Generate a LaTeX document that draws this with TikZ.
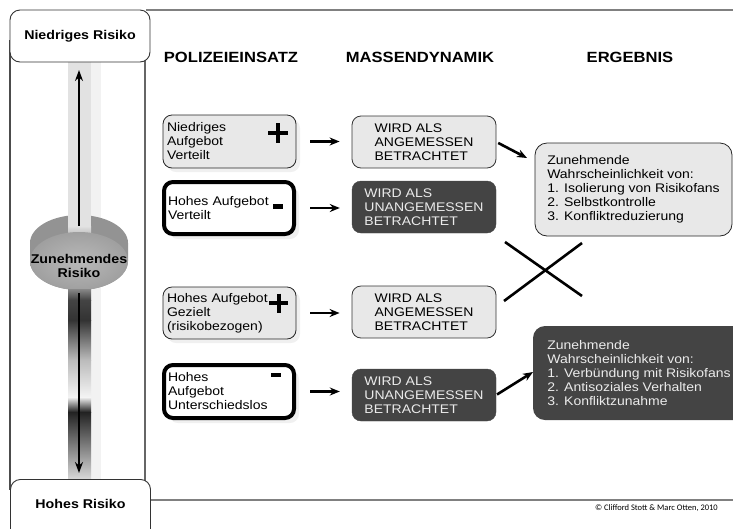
\documentclass[tikz,border=0pt]{standalone}
\usepackage{fontspec}
\setmainfont{Liberation Sans}[FakeStretch=1.12]
\newfontfamily\cfont{Carlito}
\usetikzlibrary{arrows.meta,shadows,calc}
\definecolor{lightbox}{HTML}{E8E8E8}
\definecolor{darkbox}{HTML}{444444}
\definecolor{framegrey}{HTML}{808080}
\definecolor{bartop}{HTML}{E2E2E2}
\definecolor{g88}{HTML}{888888}
\definecolor{g44}{HTML}{444444}
\definecolor{g33}{HTML}{333333}
\definecolor{gbb}{HTML}{BBBBBB}
\definecolor{gf4}{HTML}{F4F4F4}
\definecolor{g22}{HTML}{222222}
\definecolor{gd8}{HTML}{D8D8D8}
\begin{document}
\begin{tikzpicture}[x=1pt,y=-1pt,
  body/.style={font=\fontsize{12.5}{14}\selectfont},
  lightbx/.style={body,draw=black!85,fill=lightbox,rounded corners=9pt,line width=0.8pt,
     drop shadow={opacity=0.12,shadow xshift=4pt,shadow yshift=-4pt}},
  thickbx/.style={body,draw=black,fill=white,rounded corners=9pt,line width=4pt,
     drop shadow={opacity=0.12,shadow xshift=5pt,shadow yshift=-5pt}},
  midlight/.style={body,draw=black!80,fill=lightbox,rounded corners=9pt,line width=0.8pt,align=left,
     minimum width=144pt,minimum height=52pt,inner sep=0pt},
  middark/.style={body,draw=darkbox,fill=darkbox,text=white!92!black,rounded corners=9pt,align=left,
     minimum width=144pt,minimum height=52pt,inner sep=0pt},
  head/.style={font=\fontsize{14.8}{16}\selectfont\bfseries},
  riskbox/.style={draw=black!80,fill=white,rounded corners=10pt,line width=0.9pt,
     font=\fontsize{12.7}{15}\selectfont\bfseries,minimum width=140pt},
  flow/.style={-{Stealth[length=10pt,width=8pt]},line width=2.6pt},
  cross/.style={line width=2.6pt},
  pmmark/.style={line width=4pt}
]
\useasboundingbox (0,0) rectangle (733,528);
% frame lines
\draw[framegrey,line width=2pt] (146,10) -- (733,10);
\draw[framegrey,line width=2pt] (150,500) -- (733,500);
\draw[black!70,line width=1.2pt] (10,40) -- (10,490);
\draw[black!60,line width=2.2pt] (145,20) -- (145,490);
% bar
\fill[white!95!black] (90,62) rectangle (101,479);
\fill[bartop] (68,62) rectangle (91,240);
% cylinder back
\fill[gray!85] (30,243) arc[start angle=180,end angle=360,x radius=49,y radius=28] -- (128,261)
   arc[start angle=0,end angle=180,x radius=49,y radius=29] -- cycle;
\fill[bartop] (68,200) rectangle (91,226);
\shade[top color=bartop,bottom color=gray!70] (68,226) rectangle (91,240);
% cylinder front
\shade[inner color=gray!55,outer color=gray!75] (79,261) ellipse[x radius=49,y radius=29];
% lower bar shading
\shade[top color=g88,bottom color=g44] (68,289) rectangle (91,300);
\shade[top color=g44,bottom color=g33] (68,300) rectangle (91,320);
\shade[top color=g33,bottom color=gbb] (68,320) rectangle (91,360);
\shade[top color=gbb,bottom color=gf4] (68,360) rectangle (91,397);
\shade[top color=gf4,bottom color=g22] (68,397) rectangle (91,412);
\shade[top color=g22,bottom color=gd8] (68,412) rectangle (91,479);
% risk boxes
\node[riskbox,minimum height=52pt] (low) at (80,36) {Niedriges Risiko};
\node[riskbox,anchor=north,inner ysep=20pt,text height=9pt,text depth=40pt] (high) at (80.5,479) {Hohes Risiko};
\node[font=\fontsize{12.7}{14.5}\selectfont\bfseries,align=center,inner sep=0pt] (mid) at (79,266) {Zunehmendes\\Risiko};
\coordinate (upfrom) at (79,226);
\coordinate (upto) at (79,70);
\coordinate (dnfrom) at (79,293);
\coordinate (dnto) at (79,473);
\draw[-{Stealth[length=11pt,width=8pt]},line width=2pt] (upfrom) -- (upto);
\draw[-{Stealth[length=11pt,width=8pt]},line width=2pt] (dnfrom) -- (dnto);
% headings
\node[head] (h1) at (231,57) {POLIZEIEINSATZ};
\node[head] (h2) at (420,57) {MASSENDYNAMIK};
\node[head] (h3) at (630,57) {ERGEBNIS};
% left boxes
\node[lightbx,minimum width=133pt,minimum height=53pt,text width=125pt,inner xsep=4pt,align=left] (p1) at (229.5,141.5) {Niedriges\\Aufgebot\\Verteilt};
\node[thickbx,minimum width=130pt,minimum height=52pt,text width=122pt,inner xsep=4pt,align=left] (p2) at (229,208) {Hohes Aufgebot\\Verteilt};
\node[lightbx,minimum width=133pt,minimum height=52pt,text width=125pt,inner xsep=4pt,align=left] (p3) at (229.5,313) {Hohes Aufgebot\\Gezielt\\(risikobezogen)};
\node[thickbx,minimum width=130pt,minimum height=53pt,text width=122pt,inner xsep=4pt,align=left] (p4) at (229,391.5) {Hohes\\Aufgebot\\Unterschiedslos};
% plus / minus
\draw[pmmark] (268,133) -- (288,133) (278,123) -- (278,143);
\draw[pmmark,line width=4.2pt] (273,206.5) -- (283,206.5);
\draw[pmmark] (269,303) -- (288,303) (278.5,293.5) -- (278.5,312.5);
\draw[pmmark,line width=4.2pt] (271,375) -- (281,375);
% middle boxes
\node[midlight] (m1) at (424,142) {WIRD ALS\\ANGEMESSEN\\BETRACHTET};
\node[middark] (m2) at (424,207) {WIRD ALS\\UNANGEMESSEN\\BETRACHTET};
\node[midlight] (m3) at (424,312) {WIRD ALS\\ANGEMESSEN\\BETRACHTET};
\node[middark] (m4) at (424,395) {WIRD ALS\\UNANGEMESSEN\\BETRACHTET};
% right boxes
\node[body,draw=black!85,fill=lightbox,rounded corners=12pt,line width=0.8pt,align=left,
  minimum width=197pt,minimum height=93pt,inner sep=0pt] (r1) at (633.5,189.5)
  {Zunehmende\\Wahrscheinlichkeit von:\\1. Isolierung von Risikofans\\2. Selbstkontrolle\\3. Konfliktreduzierung};
\node[body,fill=darkbox,text=white!92!black,rounded corners=12pt,align=left,
  minimum width=212pt,minimum height=94pt,inner sep=0pt] (r2) at (639,373)
  {Zunehmende\\Wahrscheinlichkeit von:\\1. Verbündung mit Risikofans\\2. Antisoziales Verhalten\\3. Konfliktzunahme};
% arrows
\draw[flow,shorten <=14pt,shorten >=12pt] (p1.east) -- (m1.west |- p1.east);
\draw[flow,shorten <=14pt,shorten >=12pt] (p2.east) -- (m2.west |- p2.east);
\draw[flow,shorten <=14pt,shorten >=12pt] (p3.east) -- (m3.west |- p3.east);
\draw[flow,shorten <=14pt,shorten >=12pt] (p4.east) -- (m4.west |- p4.east);
\coordinate (a1) at (527,158);
\coordinate (a4) at (533,372);
\draw[flow,shorten <=2pt] (m1.east) -- (a1);
\draw[flow,shorten <=1pt] (m4.east) -- (a4);
\coordinate (x1) at (505,242);
\coordinate (x2) at (582,296);
\coordinate (x3) at (504,301);
\coordinate (x4) at (582,243);
\draw[cross] (x1) -- (x2);
\draw[cross] (x3) -- (x4);
% copyright
\node[font=\cfont\fontsize{8.5}{9}\selectfont,anchor=east,inner sep=0pt] (copy) at (718,508) {© Clifford Stott \& Marc Otten, 2010};
\end{tikzpicture}
\end{document}
